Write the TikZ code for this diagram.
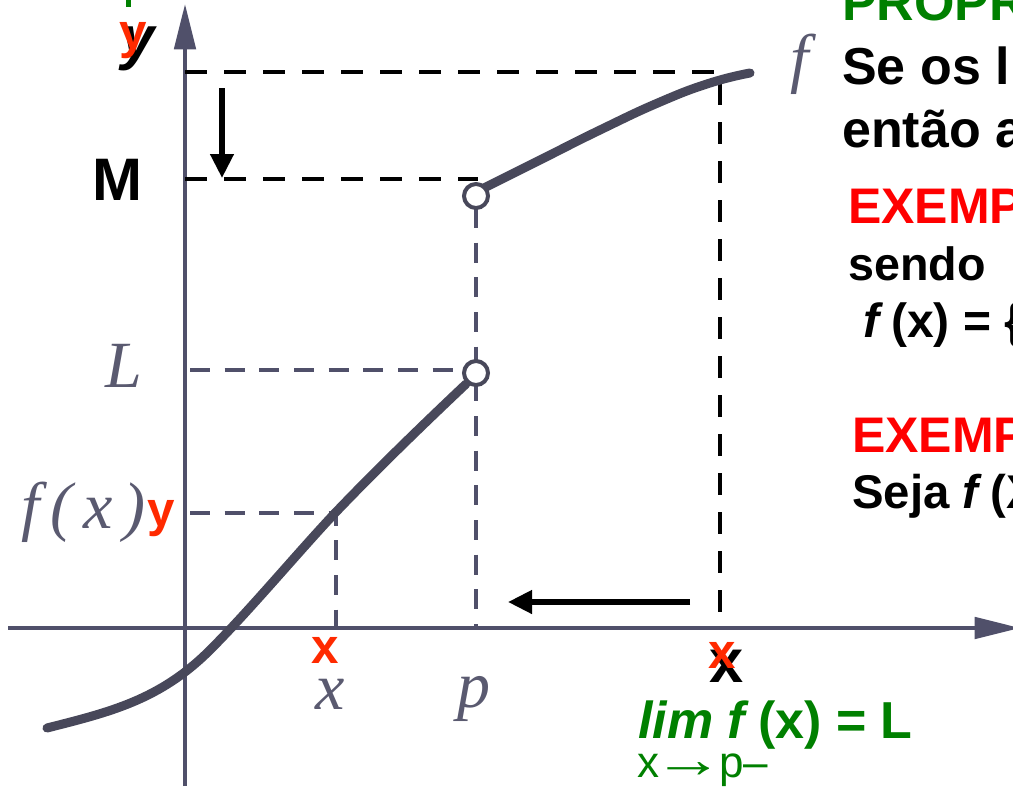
\documentclass[tikz,border=0pt]{standalone}
\usepackage{fontspec}
\usepackage{graphicx}
\newfontfamily\arialf{Liberation Sans}
\newfontfamily\timesf{Liberation Serif}
\usetikzlibrary{arrows.meta}
\definecolor{axisgray}{HTML}{50506A}
\definecolor{curvegray}{HTML}{48485A}
\definecolor{lblgray}{HTML}{5A5A70}
\definecolor{grn}{HTML}{008000}
\definecolor{redl}{HTML}{FF2A00}
\definecolor{redx}{HTML}{FF0000}
\begin{document}
\begin{tikzpicture}[x=0.75pt,y=-0.75pt,
  axis/.style={draw=axisgray,line width=3pt,-{Triangle[length=34pt,width=16pt]}},
  curve/.style={draw=curvegray,line width=6.75pt,line cap=round},
  bdash/.style={draw=black,line width=3pt,dash pattern=on 16.5pt off 12.75pt},
  gdash/.style={draw=axisgray,line width=3pt,dash pattern=on 15pt off 11pt},
  barrow/.style={draw=black,line width=4pt,-{Triangle[length=18pt,width=17pt]}},
  opencirc/.style={circle,draw=curvegray,line width=3pt,fill=white,minimum size=18pt,inner sep=0pt},
  lbl/.style={inner sep=0pt,font=\timesf\itshape\fontsize{49.5}{50}\selectfont,text=lblgray},
  redlbl/.style={inner sep=0pt,font=\arialf\bfseries\fontsize{37}{38}\selectfont,text=redl},
  txt/.style={inner sep=0pt,anchor=base west,font=\arialf\bfseries\fontsize{39}{40}\selectfont},
]
\useasboundingbox (0,0) rectangle (1013,786);
\clip (0,0) rectangle (1013,786);
% key coordinates
\coordinate (yb) at (185,786);
\coordinate (yt) at (185,4);
\coordinate (xl) at (8,628);
\coordinate (xr) at (1020,628);
\coordinate (t0) at (185,72);
\coordinate (t1) at (720,72);
\coordinate (t2) at (720,628);
\coordinate (m0) at (185,179);
\coordinate (m1) at (478,179);
\coordinate (l0) at (190,370);
\coordinate (l1) at (464,370);
\coordinate (f0) at (190,513);
\coordinate (f1) at (336,513);
\coordinate (f2) at (336,628);
\coordinate (p2) at (476,628);
\coordinate (a0) at (222,88);
\coordinate (a1) at (222,178);
\coordinate (b0) at (690,602);
\coordinate (b1) at (508,602);
% axes
\draw[axis] (yb) -- (yt);
\draw[axis] (xl) -- (xr);
% dashed guides
\draw[gdash] (l0) -- (l1);
\draw[gdash] (f0) -- (f1) -- (f2);
\draw[gdash] (476,208) -- (p2);
\draw[bdash] (t0) -- (t1) -- (t2);
\draw[bdash] (m0) -- (m1);
% curves
\draw[curve] (47,728) .. controls (110,712) and (160,700) .. (210,650)
  .. controls (250,610) and (300,550) .. (336,512)
  .. controls (380,466) and (430,418) .. (466,384);
\draw[curve] plot[smooth,tension=0.8] coordinates {(484,188) (540,160) (600,130) (660,102) (710,83) (750,73)};
\node[opencirc] (c1) at (476,196) {};
\node[opencirc] (c2) at (476,373) {};
% arrows
\draw[barrow] (a0) -- (a1);
\draw[barrow] (b0) -- (b1);
% green fragment
\fill[grn] (126,0) rectangle (131,7);
% axis labels
\node[inner sep=0pt,anchor=base,font=\arialf\bfseries\itshape\fontsize{45}{46}\selectfont] (ybk) at (138,58) {y};
\node[redlbl,anchor=base] (yrd) at (133,48) {y};
\node[inner sep=0pt,anchor=base west,font=\arialf\bfseries\fontsize{45}{46}\selectfont] (mlbl) at (92,200) {M};
\node[lbl,anchor=base] (llbl) at (124,387) {L};
\node[lbl,anchor=base east] (fxl) at (146,528) {f\,(\,x\,)};
\node[redlbl,anchor=base] (yrd2) at (161,526) {y};
\node[redlbl,anchor=base] (xrd) at (325,663) {x};
\node[lbl,anchor=base] (xlbl) at (330,709) {x};
\node[lbl,anchor=base] (plbl) at (474,707) {p};
\node[lbl,anchor=base] (flbl) at (800,80) {f};
\node[inner sep=0pt,anchor=base,font=\arialf\bfseries\fontsize{46}{47}\selectfont] (xbk) at (727,682) {x};
\node[redlbl,anchor=base] (xrd2) at (722,668) {x};
% right-hand text
\node[txt,text=grn] (prop) at (842,20) {PROPR};
\node[txt] (seos) at (842,84) {Se os l};
\node[txt] (entao) at (842,147) {então a};
\node[txt,text=redx,font=\arialf\bfseries\fontsize{37.5}{38}\selectfont] (ex1) at (848,223) {EXEMP};
\node[txt,font=\arialf\bfseries\fontsize{35}{36}\selectfont] (sendo) at (848,280) {sendo};
\node[txt,font=\arialf\bfseries\fontsize{36}{37}\selectfont] (fdef) at (863,337) {\textit{f}\,(x) = \{};
\node[txt,text=redx,font=\arialf\bfseries\fontsize{37.5}{38}\selectfont] (ex2) at (852,452) {EXEMP};
\node[txt,font=\arialf\bfseries\fontsize{35.5}{36}\selectfont] (seja) at (852,508) {Seja \textit{f}\,(X};
% limit
\node[txt,text=grn] (lim) at (638,738) {\textit{lim f}\,(x) = L};
\node[inner sep=0pt,anchor=base west,text=grn,font=\arialf\fontsize{33}{34}\selectfont] (sub) at (637,777) {x\kern-4pt\scalebox{1.6}[1.2]{→}\kern-4pt p–};
\end{tikzpicture}
\end{document}
